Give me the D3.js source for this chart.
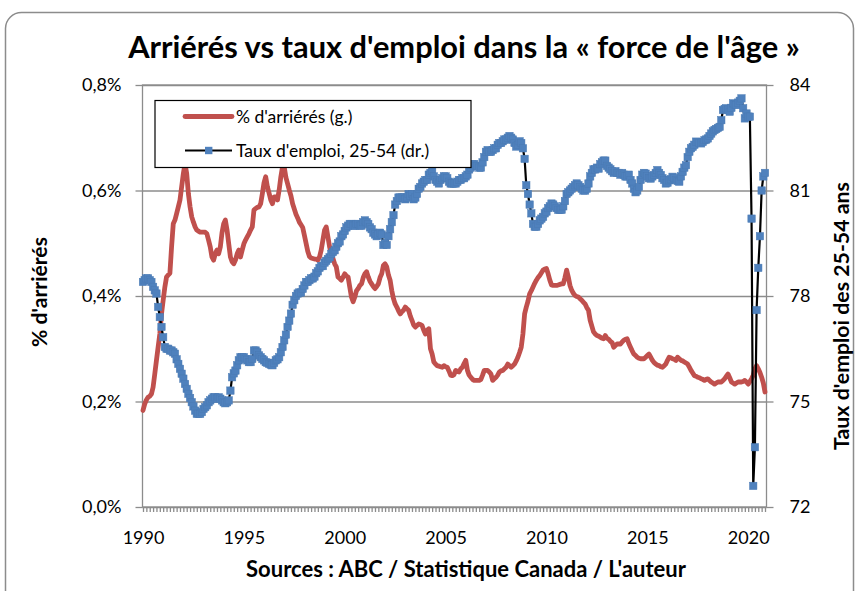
<!DOCTYPE html>
<html>
<head>
<meta charset="utf-8">
<script src="https://cdn.jsdelivr.net/npm/d3@7"></script>
<style>
  body { margin: 0; background: #fff; }
  svg { display: block; font-family: Lato, "Open Sans", sans-serif; }
</style>
</head>
<body>
<svg id="chart" width="859" height="591"></svg>
<script>
// monthly data, Jan 1990 -> Nov 2020
const startYear = 1990;

// % d'arriérés (axe gauche)
const arrieres = [
  0.183, 0.195, 0.203, 0.208, 0.210, 0.214, 0.227, 0.252, 0.278, 0.303, 0.328, 0.366, // 1990
  0.392, 0.417, 0.436, 0.440, 0.443, 0.493, 0.537, 0.544, 0.556, 0.569, 0.582, 0.607, // 1991
  0.632, 0.651, 0.632, 0.594, 0.569, 0.550, 0.540, 0.531, 0.525, 0.523, 0.521, 0.521, // 1992
  0.521, 0.521, 0.518, 0.506, 0.493, 0.474, 0.468, 0.480, 0.487, 0.480, 0.493, 0.520, // 1993
  0.537, 0.544, 0.525, 0.499, 0.474, 0.465, 0.461, 0.468, 0.480, 0.487, 0.474, 0.487, // 1994
  0.499, 0.506, 0.512, 0.518, 0.525, 0.531, 0.563, 0.566, 0.568, 0.569, 0.575, 0.594, // 1995
  0.615, 0.626, 0.607, 0.595, 0.582, 0.575, 0.588, 0.588, 0.582, 0.601, 0.626, 0.645, // 1996
  0.645, 0.625, 0.613, 0.601, 0.590, 0.575, 0.565, 0.555, 0.548, 0.540, 0.535, 0.530, // 1997
  0.515, 0.500, 0.485, 0.475, 0.472, 0.471, 0.470, 0.470, 0.468, 0.474, 0.487, 0.506, // 1998
  0.525, 0.531, 0.512, 0.493, 0.480, 0.471, 0.461, 0.455, 0.436, 0.433, 0.430, 0.436, // 1999
  0.442, 0.438, 0.436, 0.417, 0.398, 0.389, 0.398, 0.410, 0.414, 0.420, 0.423, 0.435, // 2000
  0.442, 0.446, 0.436, 0.428, 0.423, 0.418, 0.414, 0.418, 0.423, 0.435, 0.442, 0.458, // 2001
  0.461, 0.455, 0.440, 0.430, 0.410, 0.395, 0.385, 0.379, 0.372, 0.366, 0.370, 0.373, // 2002
  0.379, 0.376, 0.373, 0.362, 0.354, 0.345, 0.341, 0.344, 0.347, 0.346, 0.344, 0.335, // 2003
  0.328, 0.335, 0.338, 0.300, 0.290, 0.275, 0.271, 0.268, 0.267, 0.266, 0.265, 0.268, // 2004
  0.266, 0.265, 0.258, 0.250, 0.249, 0.251, 0.259, 0.257, 0.256, 0.262, 0.265, 0.272, // 2005
  0.278, 0.259, 0.250, 0.246, 0.242, 0.240, 0.240, 0.240, 0.240, 0.242, 0.250, 0.259, // 2006
  0.259, 0.259, 0.256, 0.252, 0.240, 0.243, 0.246, 0.250, 0.256, 0.258, 0.259, 0.262, // 2007
  0.265, 0.271, 0.268, 0.265, 0.268, 0.271, 0.277, 0.284, 0.293, 0.303, 0.328, 0.366, // 2008
  0.379, 0.390, 0.404, 0.410, 0.417, 0.424, 0.430, 0.435, 0.439, 0.444, 0.449, 0.451, // 2009
  0.452, 0.442, 0.430, 0.421, 0.420, 0.420, 0.420, 0.421, 0.422, 0.423, 0.423, 0.435, // 2010
  0.449, 0.436, 0.420, 0.411, 0.405, 0.401, 0.399, 0.398, 0.395, 0.392, 0.388, 0.385, // 2011
  0.378, 0.373, 0.354, 0.343, 0.332, 0.328, 0.325, 0.324, 0.322, 0.320, 0.319, 0.325, // 2012
  0.320, 0.318, 0.314, 0.312, 0.303, 0.306, 0.309, 0.309, 0.309, 0.313, 0.316, 0.318, // 2013
  0.319, 0.310, 0.303, 0.296, 0.290, 0.287, 0.284, 0.282, 0.281, 0.281, 0.281, 0.284, // 2014
  0.287, 0.290, 0.284, 0.278, 0.274, 0.271, 0.269, 0.268, 0.266, 0.265, 0.268, 0.271, // 2015
  0.278, 0.284, 0.283, 0.281, 0.280, 0.278, 0.284, 0.281, 0.278, 0.277, 0.275, 0.273, // 2016
  0.271, 0.265, 0.259, 0.254, 0.249, 0.248, 0.246, 0.245, 0.243, 0.242, 0.240, 0.242, // 2017
  0.243, 0.240, 0.237, 0.235, 0.233, 0.235, 0.237, 0.237, 0.237, 0.240, 0.243, 0.248, // 2018
  0.252, 0.245, 0.237, 0.235, 0.233, 0.235, 0.237, 0.237, 0.237, 0.238, 0.240, 0.237, // 2019
  0.233, 0.238, 0.243, 0.250, 0.262, 0.268, 0.262, 0.255, 0.246, 0.235, 0.218        // 2020
];

// taux d'emploi 25-54 (axe droit)
const emploi = [
  78.40, 78.45, 78.50, 78.50, 78.45, 78.40, 78.26, 78.16, 78.07, 77.69, 77.40, 77.12, // 1990
  76.83, 76.55, 76.50, 76.50, 76.45, 76.45, 76.40, 76.36, 76.20, 76.07, 75.93, 75.79, // 1991
  75.65, 75.50, 75.36, 75.22, 75.10, 74.98, 74.86, 74.74, 74.65, 74.65, 74.65, 74.70, // 1992
  74.79, 74.84, 74.89, 74.98, 75.03, 75.08, 75.12, 75.12, 75.08, 75.12, 75.08, 75.03, // 1993
  74.98, 74.95, 74.98, 75.03, 75.31, 75.69, 75.80, 75.88, 76.03, 76.17, 76.26, 76.26, // 1994
  76.26, 76.21, 76.17, 76.12, 76.12, 76.21, 76.45, 76.45, 76.40, 76.31, 76.26, 76.21, // 1995
  76.17, 76.12, 76.10, 76.07, 76.05, 76.03, 76.10, 76.17, 76.20, 76.26, 76.40, 76.55, // 1996
  76.74, 76.90, 77.12, 77.30, 77.50, 77.75, 77.88, 78.00, 78.07, 78.10, 78.10, 78.20, // 1997
  78.30, 78.40, 78.40, 78.45, 78.50, 78.50, 78.55, 78.65, 78.70, 78.80, 78.85, 78.85, // 1998
  78.95, 79.00, 79.05, 79.10, 79.20, 79.25, 79.30, 79.40, 79.50, 79.55, 79.70, 79.75, // 1999
  79.85, 79.95, 80.00, 80.05, 80.05, 80.00, 80.00, 80.05, 80.05, 80.00, 80.00, 80.10, // 2000
  80.15, 80.10, 80.05, 79.95, 79.90, 79.80, 79.75, 79.70, 79.75, 79.80, 79.75, 79.45, // 2001
  79.50, 79.45, 79.70, 79.90, 80.10, 80.30, 80.60, 80.70, 80.80, 80.80, 80.80, 80.80, // 2002
  80.75, 80.80, 80.90, 80.85, 80.90, 80.75, 80.80, 80.90, 81.05, 81.10, 81.20, 81.25, // 2003
  81.30, 81.30, 81.45, 81.50, 81.55, 81.40, 81.30, 81.25, 81.20, 81.30, 81.35, 81.40, // 2004
  81.40, 81.35, 81.25, 81.20, 81.20, 81.20, 81.20, 81.25, 81.30, 81.30, 81.35, 81.35, // 2005
  81.40, 81.45, 81.60, 81.65, 81.75, 81.75, 81.70, 81.70, 81.65, 81.65, 81.80, 81.95, // 2006
  82.10, 82.15, 82.10, 82.10, 82.15, 82.20, 82.20, 82.30, 82.35, 82.35, 82.40, 82.45, // 2007
  82.45, 82.50, 82.55, 82.50, 82.45, 82.35, 82.25, 82.30, 82.40, 82.35, 82.20, 81.90, // 2008
  81.15, 80.90, 80.60, 80.35, 80.05, 79.97, 79.97, 80.05, 80.15, 80.20, 80.25, 80.35, // 2009
  80.40, 80.50, 80.55, 80.63, 80.60, 80.55, 80.50, 80.45, 80.45, 80.45, 80.55, 80.70, // 2010
  80.90, 80.95, 81.00, 81.05, 81.10, 81.15, 81.20, 81.15, 81.10, 81.05, 81.00, 81.00, // 2011
  81.05, 81.20, 81.40, 81.50, 81.60, 81.60, 81.65, 81.62, 81.75, 81.80, 81.85, 81.85, // 2012
  81.70, 81.65, 81.60, 81.55, 81.50, 81.55, 81.50, 81.50, 81.45, 81.50, 81.45, 81.40, // 2013
  81.40, 81.45, 81.30, 81.20, 81.05, 80.95, 81.00, 81.10, 81.30, 81.45, 81.50, 81.48, // 2014
  81.40, 81.35, 81.34, 81.40, 81.44, 81.50, 81.58, 81.50, 81.44, 81.35, 81.30, 81.20, // 2015
  81.22, 81.29, 81.32, 81.39, 81.35, 81.30, 81.27, 81.25, 81.40, 81.53, 81.65, 81.72, // 2016
  81.95, 82.10, 82.20, 82.24, 82.30, 82.39, 82.38, 82.35, 82.34, 82.38, 82.43, 82.45, // 2017
  82.48, 82.55, 82.62, 82.68, 82.72, 82.75, 82.78, 82.81, 83.00, 83.29, 83.32, 83.34, // 2018
  83.30, 83.24, 83.35, 83.48, 83.45, 83.43, 83.50, 83.55, 83.62, 83.34, 83.05, 83.19, // 2019
  83.10, 83.10, 80.20, 72.60, 73.70, 77.60, 78.80, 79.70, 81.00, 81.40, 81.50         // 2020
];

const yearTicks = [1990, 1995, 2000, 2005, 2010, 2015, 2020];
const leftTicks = [0, 0.2, 0.4, 0.6, 0.8];
const rightTicks = [72, 75, 78, 81, 84];
const seriesNames = ["% d'arriérés (g.)", "Taux d'emploi, 25-54 (dr.)"];

const months = arrieres.map((d, i) => startYear + i / 12);

const grey = "#8c8c8c";
const red = "#C0504D";
const blue = "#4F81BD";

const svg = d3.select("#chart");
const plot = { left: 142.5, right: 766.5, top: 85, bottom: 507 };

const x = d3.scaleLinear()
  .domain([startYear, months[months.length - 1]])
  .range([143, 765]);
const yL = d3.scaleLinear().domain([0, 0.8]).range([plot.bottom, plot.top]);
const yR = d3.scaleLinear().domain([72, 84]).range([plot.bottom, plot.top]);

// fit a text to a given width
function fit(sel, target) {
  const len = sel.node().getComputedTextLength();
  const fs = parseFloat(sel.attr("font-size"));
  sel.attr("font-size", fs * target / len);
}

// outer border
svg.append("rect")
  .attr("x", 5.5).attr("y", 12.5)
  .attr("width", 848).attr("height", 620)
  .attr("rx", 16)
  .attr("fill", "#fff")
  .attr("stroke", grey)
  .attr("stroke-width", 1.5);

// title
svg.append("text")
  .attr("x", 464).attr("y", 58)
  .attr("text-anchor", "middle")
  .attr("font-weight", "bold")
  .attr("font-size", 28)
  .text("Arriérés vs taux d'emploi dans la « force de l'âge »")
  .call(fit, 672);

// gridlines
svg.append("g")
  .attr("transform", `translate(${plot.left},0)`)
  .call(d3.axisLeft(yL).tickValues(leftTicks).tickSize(-(plot.right - plot.left)).tickFormat(""))
  .call(g => g.select(".domain").remove())
  .selectAll("line").attr("stroke", grey).attr("stroke-width", 1.3);

// plot frame
svg.append("rect")
  .attr("x", plot.left).attr("y", plot.top)
  .attr("width", plot.right - plot.left).attr("height", plot.bottom - plot.top)
  .attr("fill", "none").attr("stroke", grey).attr("stroke-width", 1.3);

function styleAxis(g) {
  g.select(".domain").remove();
  g.attr("font-family", null).attr("font-size", null);
  g.selectAll("line").attr("stroke", grey).attr("stroke-width", 1.3);
  g.selectAll("text").attr("fill", "#000").attr("font-size", 18);
}

// left axis
svg.append("g")
  .attr("transform", `translate(${plot.left},0)`)
  .call(d3.axisLeft(yL).tickValues(leftTicks).tickSize(7).tickSizeOuter(0).tickPadding(14)
    .tickFormat(d => d3.format(".1f")(d).replace(".", ",") + "%"))
  .call(styleAxis);

// right axis
svg.append("g")
  .attr("transform", `translate(${plot.right},0)`)
  .call(d3.axisRight(yR).tickValues(rightTicks).tickSize(7).tickSizeOuter(0).tickPadding(16))
  .call(styleAxis);

// bottom axis, a tick every 2 months, label every 5 years
const minorTicks = months.filter((d, i) => i % 2 === 0);
svg.append("g")
  .attr("transform", `translate(0,${plot.bottom})`)
  .call(d3.axisBottom(x).tickValues(minorTicks).tickSize(5).tickSizeOuter(0).tickPadding(19)
    .tickFormat(d => {
      const yr = Math.round(d);
      return Math.abs(d - yr) < 1e-6 && yearTicks.includes(yr) ? yr : "";
    }))
  .call(styleAxis);

// axis titles
svg.append("text")
  .attr("transform", "translate(47,292) rotate(-90)")
  .attr("text-anchor", "middle")
  .attr("font-weight", "bold")
  .attr("font-size", 18)
  .text("% d'arriérés")
  .call(fit, 110);

svg.append("text")
  .attr("transform", "translate(849,316) rotate(-90)")
  .attr("text-anchor", "middle")
  .attr("font-weight", "bold")
  .attr("font-size", 18)
  .text("Taux d'emploi des 25-54 ans")
  .call(fit, 268);

svg.append("text")
  .attr("x", 466).attr("y", 577)
  .attr("text-anchor", "middle")
  .attr("font-weight", "bold")
  .attr("font-size", 18)
  .text("Sources : ABC / Statistique Canada / L'auteur")
  .call(fit, 440);

// arrears line
svg.append("path")
  .datum(arrieres)
  .attr("fill", "none")
  .attr("stroke", red)
  .attr("stroke-width", 4.8)
  .attr("stroke-linejoin", "round")
  .attr("stroke-linecap", "round")
  .attr("d", d3.line().x((d, i) => x(months[i])).y(d => yL(d)));

// employment line + markers
svg.append("path")
  .datum(emploi)
  .attr("fill", "none")
  .attr("stroke", "#000")
  .attr("stroke-width", 2.2)
  .attr("d", d3.line().x((d, i) => x(months[i])).y(d => yR(d)));

svg.append("g")
  .selectAll("rect")
  .data(emploi)
  .join("rect")
  .attr("x", (d, i) => x(months[i]) - 3.7)
  .attr("y", d => yR(d) - 3.7)
  .attr("width", 7.4).attr("height", 7.4)
  .attr("fill", blue)
  .attr("stroke", "#4a7ab3")
  .attr("stroke-width", 0.5);

// legend
const legend = svg.append("g").attr("transform", "translate(155,100.5)");
legend.append("rect")
  .attr("width", 316).attr("height", 67)
  .attr("fill", "#fff").attr("stroke", "#000").attr("stroke-width", 1.2);

const rows = legend.selectAll("g.row")
  .data(seriesNames)
  .join("g")
  .attr("class", "row")
  .attr("transform", (d, i) => `translate(0,${16 + i * 34})`);

rows.append("line")
  .attr("x1", 30).attr("x2", 77)
  .attr("stroke", (d, i) => i === 0 ? red : "#000")
  .attr("stroke-width", (d, i) => i === 0 ? 4.8 : 2)
  .attr("stroke-linecap", (d, i) => i === 0 ? "round" : "butt");

rows.filter((d, i) => i === 1).append("rect")
  .attr("x", 50).attr("y", -3.7).attr("width", 7.4).attr("height", 7.4)
  .attr("fill", blue);

rows.append("text")
  .attr("x", 81).attr("dy", "0.35em")
  .attr("font-size", 17.5)
  .text(d => d);
</script>
</body>
</html>
